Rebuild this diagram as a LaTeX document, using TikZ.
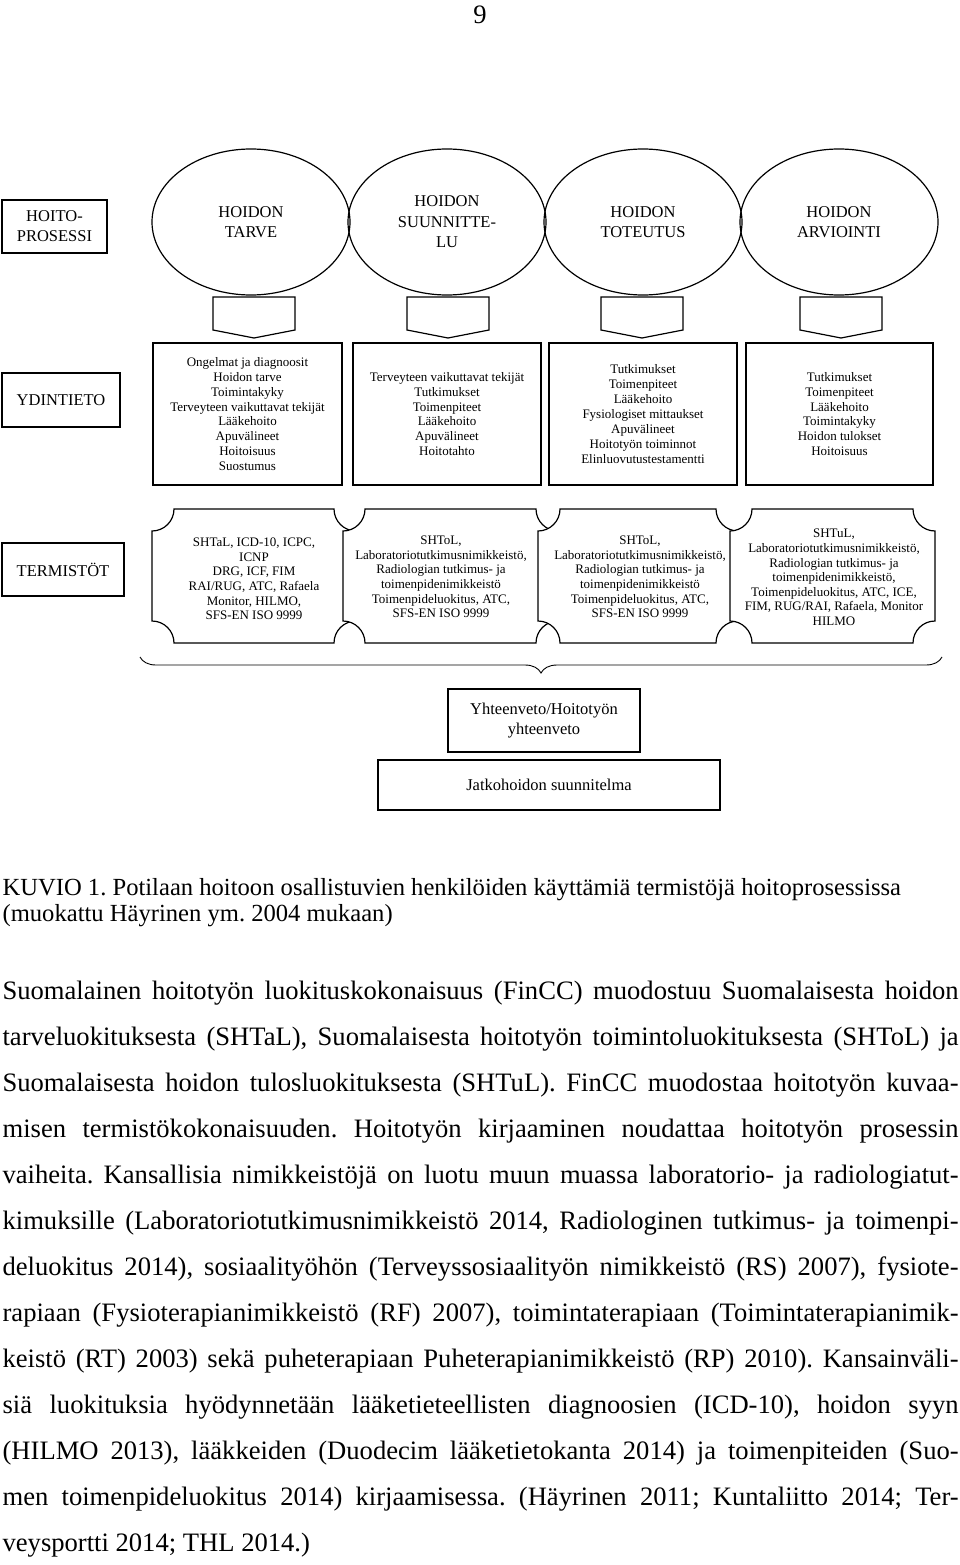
\documentclass[tikz,border=0pt]{standalone}
\usepackage{fontspec}
\setmainfont{Liberation Serif}
\usetikzlibrary{shapes,shapes.geometric,decorations.pathreplacing,calc}
\frenchspacing

%% plaque with concave corners: x1, y1, x2, y2
\newcommand{\plaque}[4]{%
	\draw[fill=white] (#1+22,#2) -- (#3-22,#2) arc[start angle=180,end angle=90,radius=22]
	-- (#3,#4-22) arc[start angle=270,end angle=180,radius=22]
	-- (#1+22,#4) arc[start angle=0,end angle=-90,radius=22]
	-- (#1,#2+22) arc[start angle=90,end angle=0,radius=22] -- cycle;}

\begin{document}
\begin{tikzpicture}
		[x=1pt,y=-1pt,line width=1.2pt,every node/.style={inner sep=0pt},
		labelbox/.style={draw,align=center,font=\fontsize{16.5}{20}\selectfont},
		listbox/.style={draw,align=center,font=\fontsize{13}{14.9}\selectfont},
		phase/.style={draw,ellipse,minimum width=198pt,minimum height=146pt,
			align=center,font=\fontsize{16.5}{20.5}\selectfont},
		termtext/.style={align=center,font=\fontsize{13}{14.6}\selectfont},
		bodyline/.style={anchor=base west,font=\fontsize{26.6}{30}\selectfont}]
		\useasboundingbox (0,0) rectangle (960,1565);
		\node[font=\fontsize{26.6}{30}\selectfont,anchor=base] (pagenum) at (480,24) {9};
		%% process phases
		\node[labelbox,minimum width=105pt,minimum height=53pt] (process) at (54.5,226.5) {HOITO-\\PROSESSI};
		\node[phase] (need) at (251,222) {HOIDON\\TARVE};
		\node[phase] (plan) at (447,222) {HOIDON\\SUUNNITTE-\\LU};
		\node[phase] (impl) at (643,222) {HOIDON\\TOTEUTUS};
		\node[phase] (eval) at (839,222) {HOIDON\\ARVIOINTI};
		\foreach \ax in {254,448,642,841}
		{
			\draw (\ax-41,297) -- (\ax+41,297) -- (\ax+41,330) -- (\ax,338) -- (\ax-41,330) -- cycle;
		}
		%% core data
		\node[labelbox,minimum width=118pt,minimum height=54pt] (core) at (61,400) {YDINTIETO};
		\node[listbox,minimum width=189pt,minimum height=142pt] (needdata) at (247.5,414)
		{Ongelmat ja diagnoosit\\Hoidon tarve\\Toimintakyky\\Terveyteen vaikuttavat tekijät\\
			Lääkehoito\\Apuvälineet\\Hoitoisuus\\Suostumus};
		\node[listbox,minimum width=188pt,minimum height=142pt] (plandata) at (447,414)
		{Terveyteen vaikuttavat tekijät\\Tutkimukset\\Toimenpiteet\\Lääkehoito\\Apuvälineet\\Hoitotahto};
		\node[listbox,minimum width=188pt,minimum height=142pt] (impldata) at (643,414)
		{Tutkimukset\\Toimenpiteet\\Lääkehoito\\Fysiologiset mittaukset\\Apuvälineet\\
			Hoitotyön toiminnot\\Elinluovutustestamentti};
		\node[listbox,minimum width=187pt,minimum height=142pt] (evaldata) at (839.5,414)
		{Tutkimukset\\Toimenpiteet\\Lääkehoito\\Toimintakyky\\Hoidon tulokset\\Hoitoisuus};
		%% terminologies
		\node[labelbox,minimum width=122pt,minimum height=53pt] (terms) at (63,569.5) {TERMISTÖT};
		\plaque{152}{509}{356}{643}
		\plaque{343}{509}{558}{643}
		\plaque{538}{509}{738}{643}
		\plaque{730}{509}{935}{643}
		\node[termtext] (needterms) at (254,579)
		{SHTaL, ICD-10, ICPC,\\ICNP\\DRG, ICF, FIM\\RAI/RUG, ATC, Rafaela\\Monitor, HILMO,\\SFS-EN ISO 9999};
		\node[termtext] (planterms) at (441,577)
		{SHToL,\\Laboratoriotutkimusnimikkeistö,\\Radiologian tutkimus- ja\\toimenpidenimikkeistö\\
			Toimenpideluokitus, ATC,\\SFS-EN ISO 9999};
		\node[termtext] (implterms) at (640,577)
		{SHToL,\\Laboratoriotutkimusnimikkeistö,\\Radiologian tutkimus- ja\\toimenpidenimikkeistö\\
			Toimenpideluokitus, ATC,\\SFS-EN ISO 9999};
		\node[termtext] (evalterms) at (834,577.5)
		{SHTuL,\\Laboratoriotutkimusnimikkeistö,\\Radiologian tutkimus- ja\\toimenpidenimikkeistö,\\
			Toimenpideluokitus, ATC, ICE,\\FIM, RUG/RAI, Rafaela, Monitor\\HILMO};
		\draw[line width=0.9pt,decorate,decoration={brace,mirror,amplitude=16pt}] (140,657) -- (942,657);
		%% summary
		\node[labelbox,minimum width=192pt,minimum height=63pt] (summary) at (544,720.5) {Yhteenveto/Hoitotyön\\yhteenveto};
		\node[labelbox,minimum width=342pt,minimum height=50pt] (further) at (549,785) {Jatkohoidon suunnitelma};
		%% caption and text
		\node[anchor=base west,font=\fontsize{24.6}{26}\selectfont] (cap1) at (2,895)
		{KUVIO 1. Potilaan hoitoon osallistuvien henkilöiden käyttämiä termistöjä hoitoprosessissa};
		\node[anchor=base west,font=\fontsize{24.6}{26}\selectfont] (cap2) at (2,921)
		{(muokattu Häyrinen ym. 2004 mukaan)};
		\foreach \txt [count=\n from 0] in
		{{Suomalainen hoitotyön luokituskokonaisuus (FinCC) muodostuu Suomalaisesta hoidon},
			{tarveluokituksesta (SHTaL), Suomalaisesta hoitotyön toimintoluokituksesta (SHToL) ja},
			{Suomalaisesta hoidon tulosluokituksesta (SHTuL). FinCC muodostaa hoitotyön kuvaa-},
			{misen termistökokonaisuuden. Hoitotyön kirjaaminen noudattaa hoitotyön prosessin},
			{vaiheita. Kansallisia nimikkeistöjä on luotu muun muassa laboratorio- ja radiologiatut-},
			{kimuksille (Laboratoriotutkimusnimikkeistö 2014, Radiologinen tutkimus- ja toimenpi-},
			{deluokitus 2014), sosiaalityöhön (Terveyssosiaalityön nimikkeistö (RS) 2007), fysiote-},
			{rapiaan (Fysioterapianimikkeistö (RF) 2007), toimintaterapiaan (Toimintaterapianimik-},
			{keistö (RT) 2003) sekä puheterapiaan Puheterapianimikkeistö (RP) 2010). Kansainväli-},
			{siä luokituksia hyödynnetään lääketieteellisten diagnoosien (ICD-10), hoidon syyn},
			{(HILMO 2013), lääkkeiden (Duodecim lääketietokanta 2014) ja toimenpiteiden (Suo-},
			{men toimenpideluokitus 2014) kirjaamisessa. (Häyrinen 2011; Kuntaliitto 2014; Ter-}}
		{
			\node[bodyline] (line\n) at (2,999+46*\n) {\hbox to 956pt{\txt}};
		}
		\node[bodyline] (line12) at (2,1551) {veysportti 2014; THL 2014.)};
		\end{tikzpicture}
\end{document}
